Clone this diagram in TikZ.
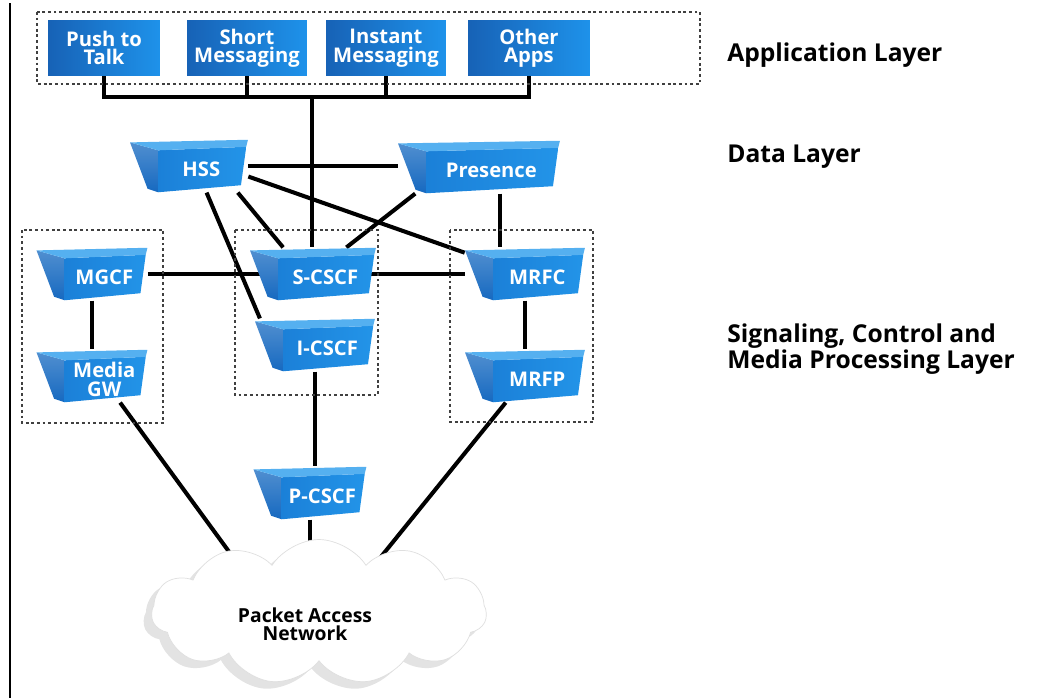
\documentclass[tikz,border=0pt]{standalone}
\usepackage{fontspec}
\setmainfont{Open Sans}
\usetikzlibrary{calc, shapes.symbols, backgrounds}

\definecolor{appdark}{HTML}{1762B6}
\definecolor{applight}{HTML}{1E92EA}
\definecolor{srvtop}{HTML}{55B0F0}
\definecolor{srvside}{HTML}{1669C0}
\definecolor{srvfront}{HTML}{1B80D8}
\definecolor{srvfrontR}{HTML}{2394E8}

\begin{document}
\begin{tikzpicture}[x=0.02cm, y=-0.02cm,
  wire/.style={line width=2.3pt, black},
  layerbox/.style={draw=black!75, line width=0.9pt, dash pattern=on 1.6pt off 1.6pt},
  appbox/.style={minimum width=#1, minimum height=1.1cm, inner sep=0pt, align=center,
    text=white, font=\bfseries\fontsize{11.5}{10.5}\selectfont, left color=appdark, right color=applight},
  server/.style={minimum width=#1, minimum height=1.05cm, inner sep=0pt,
    path picture={
      \path (path picture bounding box.north west) coordinate (nw)
            (path picture bounding box.south east) coordinate (se);
      \shade[top color=srvside!75!white, bottom color=srvside] let \p1=(nw), \p2=(se) in
        (\x1,\y1-1.5pt) -- (\x1+16pt,\y1-6pt) -- (\x1+16pt,\y2) -- (\x1+10pt,\y2+2pt) -- cycle;
      \shade[left color=srvfront, right color=srvfrontR] let \p1=(nw), \p2=(se) in
        (\x1+16pt,\y1-6pt) -- (\x2-1pt,\y1-4pt) -- (\x2-4pt,\y2+4pt) -- (\x1+16pt,\y2) -- cycle;
      \fill[srvtop] let \p1=(nw), \p2=(se) in
        (\x1,\y1-1.5pt) -- (\x2,\y1) -- (\x2-1pt,\y1-4pt) -- (\x1+16pt,\y1-6pt) -- cycle;
    }},
  srvtext/.style={text=white, font=\bfseries\fontsize{11.5}{10.5}\selectfont, align=center,
    xshift=7pt, yshift=-2pt},
  layertext/.style={anchor=west, align=left, inner sep=0pt, font=\bfseries\fontsize{14}{13}\selectfont},
  pancloud/.style={cloud, cloud puffs=11, cloud puff arc=115, aspect=2.3,
    minimum width=6.7cm, minimum height=2.9cm}
]
  \useasboundingbox (0,0) rectangle (1038,698);
  \draw[line width=1.1pt] (10,3) -- (10,698);

  \draw[layerbox] (37,12) rectangle (700,84);
  \draw[layerbox] (22,230) rectangle (163,423);
  \draw[layerbox] (235,230) rectangle (378,395);
  \draw[layerbox] (450,230) rectangle (593,422);

  \node[appbox=2.24cm] (ptt) at (104,48) {Push to\\Talk};
  \node[appbox=2.4cm] (sms) at (247,48) {Short\\Messaging};
  \node[appbox=2.4cm] (ims) at (386,48) {Instant\\Messaging};
  \node[appbox=2.44cm] (othr) at (529,48) {Other\\Apps};

  \node[server=2.36cm, label={[srvtext]center:HSS}] (hss) at (189,166) {};
  \node[server=3.24cm, label={[srvtext]center:Presence}] (pres) at (479,167) {};
  \node[server=2.22cm, label={[srvtext]center:MGCF}] (mgcf) at (92,274) {};
  \node[server=2.52cm, label={[srvtext]center:S-CSCF}] (scscf) at (313,274) {};
  \node[server=2.4cm, label={[srvtext]center:MRFC}] (mrfc) at (525,274) {};
  \node[server=2.22cm, label={[srvtext]center:{Media\\GW}}] (mgw) at (92,376) {};
  \node[server=2.4cm, label={[srvtext]center:I-CSCF}] (icscf) at (315,345) {};
  \node[server=2.4cm, label={[srvtext]center:MRFP}] (mrfp) at (525,376) {};
  \node[server=2.26cm, label={[srvtext]center:P-CSCF}] (pcscf) at (310,493) {};

  \node[pancloud, fill=gray!22] (panshade) at (311,619) {};
  \node[pancloud, fill=white, draw=gray!25] (pan) at (319,612) {};
  \node[font=\bfseries\fontsize{11}{10}\selectfont, align=center] (pantext) at (305,624)
    {Packet Access\\Network};

  \node[layertext] (applbl) at (727,55) {Application Layer};
  \node[layertext] (datalbl) at (727,157) {Data Layer};
  \node[layertext] (siglbl) at (727,349) {Signaling, Control and\\Media Processing Layer};

  \begin{scope}[on background layer]
  \begin{scope}[wire]
    \coordinate (bus) at (312,97);
    \draw (ptt.south) |- (bus) -| (othr.south);
    \draw (sms.south) -- (sms.south |- bus);
    \draw (ims.south) -- (ims.south |- bus);
    \draw (bus) -- (bus |- scscf.north);
    \draw (hss.east) -- (hss.east -| pres.west);
    \draw ([xshift=-6pt]hss.south east) -- ([xshift=-17pt]scscf.north);
    \draw ([xshift=10pt]hss.south) -- ([xshift=3pt]icscf.north west);
    \draw ([yshift=-6pt]hss.east) -- ([yshift=-3pt]mrfc.north west);
    \draw ([xshift=10pt]pres.south west) -- ([xshift=19pt]scscf.north);
    \draw ([xshift=12pt]pres.south) -- ([xshift=12pt]pres.south |- mrfc.north);
    \draw (mgcf) -- (mrfc);
    \draw (mgcf) -- (mgw);
    \draw (mrfc) -- (mrfp);
    \draw (icscf.south) -- (icscf.south |- pcscf.north);
    \draw (pcscf.south) -- (pcscf.south |- pan.center);
    \draw ([xshift=16pt]mgw.south) -- ($(pan.center)+(-62,-22)$);
    \draw ([xshift=-11pt]mrfp.south) -- ($(pan.center)+(23,-7)$);
  \end{scope}
  \end{scope}
\end{tikzpicture}
\end{document}
